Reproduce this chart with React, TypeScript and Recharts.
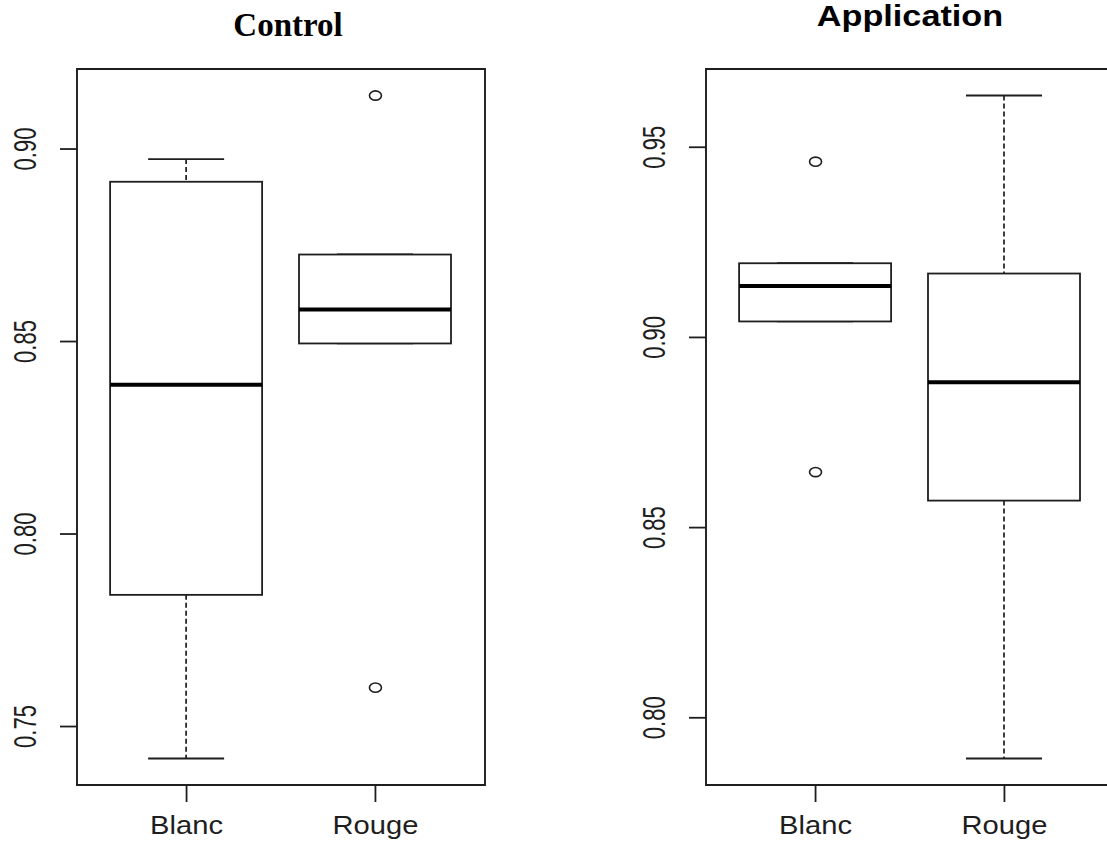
import React from 'react';
import {
  Bar,
  ComposedChart,
  Line,
  ReferenceArea,
  XAxis,
  YAxis,
} from 'recharts';

const categories = ['Blanc', 'Rouge'];
const positions = [1, 2];

// Control panel
const controlLow = [0.7417, 0.8495];
const controlQ1 = [0.7842, 0.8495];
const controlMedian = [0.8388, 0.8583];
const controlQ3 = [0.8915, 0.8726];
const controlHigh = [0.8974, 0.8726];
const controlOutHigh = [null, 0.9139];
const controlOutLow = [null, 0.7601];
const controlTicks = [0.75, 0.8, 0.85, 0.9];

// Application panel
const appLow = [0.9042, 0.7893];
const appQ1 = [0.9042, 0.8571];
const appMedian = [0.9135, 0.8882];
const appQ3 = [0.9195, 0.9168];
const appHigh = [0.9195, 0.9636];
const appOutHigh = [0.9462, null];
const appOutLow = [0.8646, null];
const appTicks = [0.8, 0.85, 0.9, 0.95];

const INK = '#1e1e1e';

type BoxRow = {
  pos: number;
  low: number;
  q1: number;
  median: number;
  q3: number;
  high: number;
  outHigh: number | null;
  outLow: number | null;
};

function buildRows(
  low: number[],
  q1: number[],
  median: number[],
  q3: number[],
  high: number[],
  outHigh: (number | null)[],
  outLow: (number | null)[],
): BoxRow[] {
  return positions.map((pos, i) => ({
    pos,
    low: low[i],
    q1: q1[i],
    median: median[i],
    q3: q3[i],
    high: high[i],
    outHigh: outHigh[i],
    outLow: outLow[i],
  }));
}

// like R: data range widened by 4%
function rDomain(rows: BoxRow[]): [number, number] {
  const vals: number[] = [];
  rows.forEach((r) => {
    vals.push(r.low, r.high);
    if (r.outHigh != null) vals.push(r.outHigh);
    if (r.outLow != null) vals.push(r.outLow);
  });
  const mn = Math.min(...vals);
  const mx = Math.max(...vals);
  const pad = (mx - mn) * 0.04;
  return [mn - pad, mx + pad];
}

// x limits 0.5 .. n + 0.5, widened by 4%
const xLo = 0.5 - 0.04 * categories.length;
const xHi = categories.length + 0.5 + 0.04 * categories.length;

const controlRows = buildRows(
  controlLow, controlQ1, controlMedian, controlQ3, controlHigh, controlOutHigh, controlOutLow,
);
const appRows = buildRows(appLow, appQ1, appMedian, appQ3, appHigh, appOutHigh, appOutLow);

function BoxShape(props: any) {
  const { x, y, width, height, payload } = props;
  if (!payload) return null;
  const top = Math.min(y, y + height);
  const bottom = Math.max(y, y + height);
  const lo = payload.low;
  const hi = payload.high;
  const py = (v: number) =>
    hi === lo ? top : bottom - ((v - lo) / (hi - lo)) * (bottom - top);
  const cx = x + width / 2;
  const cap = width / 4;
  return (
    <g>
      <line x1={cx} x2={cx} y1={py(hi)} y2={py(payload.q3)} stroke={INK} strokeWidth={1.7} strokeDasharray="5 3" />
      <line x1={cx} x2={cx} y1={py(payload.q1)} y2={py(lo)} stroke={INK} strokeWidth={1.7} strokeDasharray="5 3" />
      <line x1={cx - cap} x2={cx + cap} y1={py(hi)} y2={py(hi)} stroke={INK} strokeWidth={1.8} />
      <line x1={cx - cap} x2={cx + cap} y1={py(lo)} y2={py(lo)} stroke={INK} strokeWidth={1.8} />
      <rect
        x={x}
        y={py(payload.q3)}
        width={width}
        height={py(payload.q1) - py(payload.q3)}
        fill="#fff"
        stroke={INK}
        strokeWidth={1.8}
      />
      <line x1={x} x2={x + width} y1={py(payload.median)} y2={py(payload.median)} stroke="#000" strokeWidth={4} />
    </g>
  );
}

function OutlierDot(props: any) {
  const { cx, cy, index } = props;
  if (!Number.isFinite(cx) || !Number.isFinite(cy)) return <g key={index} />;
  return <ellipse key={index} cx={cx} cy={cy} rx={6} ry={4.6} fill="none" stroke={INK} strokeWidth={1.6} />;
}

function XTick(props: any) {
  const { x, y, payload } = props;
  return (
    <g transform={`translate(${x},${y}) scale(1.1,1)`}>
      <text x={0} y={0} dy={32} textAnchor="middle" fontSize={26.5} fill={INK} fontFamily="'Liberation Sans', Arial, sans-serif">
        {categories[Math.round(payload.value) - 1]}
      </text>
    </g>
  );
}

function YTick(props: any) {
  const { x, y, payload } = props;
  return (
    <g transform={`translate(${x - 24},${y}) scale(1.4,1) rotate(-90)`}>
      <text x={0} y={0} textAnchor="middle" fontSize={22} fill={INK} fontFamily="'Liberation Sans', Arial, sans-serif">
        {Number(payload.value).toFixed(2)}
      </text>
    </g>
  );
}

function BoxPanel({
  rows,
  ticks,
  width,
  yAxisWidth,
  rightMargin,
}: {
  rows: BoxRow[];
  ticks: number[];
  width: number;
  yAxisWidth: number;
  rightMargin: number;
}) {
  const domain = rDomain(rows);
  return (
    <ComposedChart
      width={width}
      height={846}
      data={rows}
      margin={{ top: 69, right: rightMargin, bottom: 0, left: 0 }}
    >
      <XAxis
        dataKey="pos"
        type="number"
        domain={[xLo, xHi]}
        allowDataOverflow
        ticks={positions}
        height={61}
        axisLine={false}
        tickSize={17}
        tickMargin={0}
        tickLine={{ stroke: INK, strokeWidth: 1.8 }}
        tick={<XTick />}
        interval={0}
      />
      <YAxis
        type="number"
        domain={domain}
        allowDataOverflow
        ticks={ticks}
        width={yAxisWidth}
        axisLine={false}
        tickSize={17}
        tickMargin={0}
        tickLine={{ stroke: INK, strokeWidth: 1.8 }}
        tick={<YTick />}
      />
      <ReferenceArea
        x1={xLo}
        x2={xHi}
        y1={domain[0]}
        y2={domain[1]}
        fill="none"
        fillOpacity={0}
        stroke={INK}
        strokeWidth={1.9}
        ifOverflow="visible"
      />
      <Bar
        dataKey={(d: BoxRow) => [d.low, d.high]}
        barSize={152}
        shape={<BoxShape />}
        isAnimationActive={false}
      />
      <Line dataKey="outHigh" stroke="none" dot={<OutlierDot />} activeDot={false} isAnimationActive={false} />
      <Line dataKey="outLow" stroke="none" dot={<OutlierDot />} activeDot={false} isAnimationActive={false} />
    </ComposedChart>
  );
}

export default function App() {
  return (
    <div
      style={{
        position: 'absolute',
        left: 0,
        top: 0,
        width: 1107,
        height: 846,
        overflow: 'hidden',
        background: '#fff',
      }}
    >
      <div style={{ position: 'absolute', left: 0, top: 0 }}>
        <BoxPanel rows={controlRows} ticks={controlTicks} width={560} yAxisWidth={77} rightMargin={75} />
      </div>
      <div style={{ position: 'absolute', left: 560, top: 0 }}>
        <BoxPanel rows={appRows} ticks={appTicks} width={574} yAxisWidth={146} rightMargin={20} />
      </div>
      <div
        style={{
          position: 'absolute',
          left: 88,
          top: 9.4,
          width: 400,
          textAlign: 'center',
          fontFamily: "'Liberation Serif', 'Times New Roman', serif",
          fontWeight: 'bold',
          fontSize: 33,
          lineHeight: '33px',
          color: '#000',
        }}
      >
        Control
      </div>
      <div
        style={{
          position: 'absolute',
          left: 710,
          top: 1.5,
          width: 400,
          textAlign: 'center',
          fontFamily: "'Liberation Sans', Arial, sans-serif",
          fontWeight: 'bold',
          fontSize: 29,
          lineHeight: '29px',
          color: '#000',
          transform: 'scaleX(1.18)',
        }}
      >
        Application
      </div>
    </div>
  );
}
